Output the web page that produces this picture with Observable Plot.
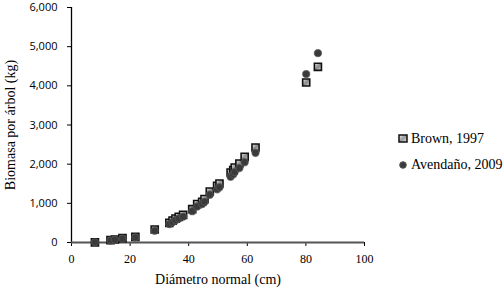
<!DOCTYPE html>
<html>
<head>
<meta charset="utf-8">
<script src="https://cdn.jsdelivr.net/npm/d3@7"></script>
<script src="https://cdn.jsdelivr.net/npm/@observablehq/plot@0.6"></script>
<style>
  html, body { margin: 0; padding: 0; background: #fff; }
  #wrap { position: relative; width: 504px; height: 290px; }
  #legend { position: absolute; left: 398px; top: 126px; font-family: "Liberation Serif", "Times New Roman", serif; font-size: 14px; color: #000; }
  #legend .row { display: flex; align-items: center; height: 26px; white-space: nowrap; }
  #legend svg { margin-right: 3px; }
</style>
</head>
<body>
<div id="wrap">
  <div id="chart"></div>
  <div id="legend"></div>
</div>
<script>
// Data
const diametro = [8, 13.3, 14.8, 17.4, 21.8, 28.4, 33.4, 34.5, 35.5, 36.6, 38.1, 41.2, 42.9, 44.6, 45.4, 47.2, 49.7, 50.5, 54.3, 55.2, 55.7, 57.3, 59.1, 62.8, 80.1, 84.1];
const brown1997 = [5, 60, 77, 112, 146, 332, 503, 560, 610, 656, 707, 852, 980, 1040, 1108, 1302, 1447, 1506, 1787, 1850, 1915, 2017, 2188, 2425, 4085, 4485];
const avendano2009 = [4, 50, 68, 100, 130, 300, 470, 520, 570, 615, 660, 800, 920, 980, 1040, 1220, 1360, 1410, 1680, 1740, 1800, 1900, 2050, 2290, 4300, 4835];
const seriesNames = ["Brown, 1997", "Avendaño, 2009"];
const xTicks = [0, 20, 40, 60, 80, 100];
const yTicks = [0, 1000, 2000, 3000, 4000, 5000, 6000];
const xTitle = "Diámetro normal (cm)";
const yTitle = "Biomasa por árbol (kg)";

const brownData = diametro.map((d, i) => ({d, b: brown1997[i]}));
const avData = diametro.map((d, i) => ({d, b: avendano2009[i]}));

const serif = "'Liberation Serif', 'Times New Roman', serif";

const chart = Plot.plot({
  width: 504,
  height: 290,
  marginLeft: 71,
  marginRight: 140,
  marginTop: 7,
  marginBottom: 48,
  x: {domain: [0, 100]},
  y: {domain: [0, 6000]},
  marks: [
    Plot.axisY({
      ticks: yTicks, tickFormat: d3.format(","), tickSize: 4, tickPadding: 10,
      fontFamily: "'Open Sans', sans-serif", fontSize: 11, stroke: "#000", label: null
    }),
    Plot.axisX({
      ticks: xTicks, tickSize: 4, tickPadding: 8,
      fontFamily: serif, fontSize: 12, stroke: "#000", label: null
    }),
    Plot.text([yTitle], {frameAnchor: "left", textAnchor: "middle", lineAnchor: "middle", rotate: -90, dx: -61, fontFamily: serif, fontSize: 14, fill: "#000"}),
    Plot.text([xTitle], {frameAnchor: "bottom", textAnchor: "middle", lineAnchor: "middle", dy: 37, fontFamily: serif, fontSize: 14, fill: "#000"}),
    Plot.ruleX([0], {stroke: "#000", strokeWidth: 1.3}),
    Plot.ruleY([0], {stroke: "#555", strokeWidth: 2}),
    Plot.dot(brownData, {x: "d", y: "b", symbol: "square", r: 4, fill: "url(#sqgrad)", stroke: "#111", strokeWidth: 1.6}),
    Plot.dot(avData, {x: "d", y: "b", symbol: "circle", r: 3.6, fill: "#3a3a3a", stroke: "#555", strokeWidth: 1.2, strokeOpacity: 0.7})
  ]
});

// gradient definition for square markers
const ns = "http://www.w3.org/2000/svg";
const defs = document.createElementNS(ns, "defs");
defs.innerHTML = `<linearGradient id="sqgrad" x1="0" y1="0" x2="1" y2="1">
  <stop offset="0" stop-color="#eeeeee"/>
  <stop offset="0.5" stop-color="#8a8a8a"/>
  <stop offset="1" stop-color="#d8d8d8"/>
</linearGradient>`;
chart.insertBefore(defs, chart.firstChild);
document.getElementById("chart").appendChild(chart);

// legend
const legend = document.getElementById("legend");
const sym = [
  `<svg width="10" height="10"><defs><linearGradient id="lg1" x1="0" y1="0" x2="1" y2="1"><stop offset="0" stop-color="#f4f4f4"/><stop offset="0.5" stop-color="#9a9a9a"/><stop offset="1" stop-color="#e6e6e6"/></linearGradient></defs><rect x="1" y="1" width="8" height="7" fill="url(#lg1)" stroke="#111" stroke-width="1.5"/></svg>`,
  `<svg width="10" height="10"><circle cx="5" cy="5" r="3.3" fill="#3a3a3a" stroke="#555" stroke-width="1"/></svg>`
];
seriesNames.forEach((name, i) => {
  const row = document.createElement("div");
  row.className = "row";
  row.innerHTML = sym[i] + `<span>${name}</span>`;
  legend.appendChild(row);
});
</script>
</body>
</html>
